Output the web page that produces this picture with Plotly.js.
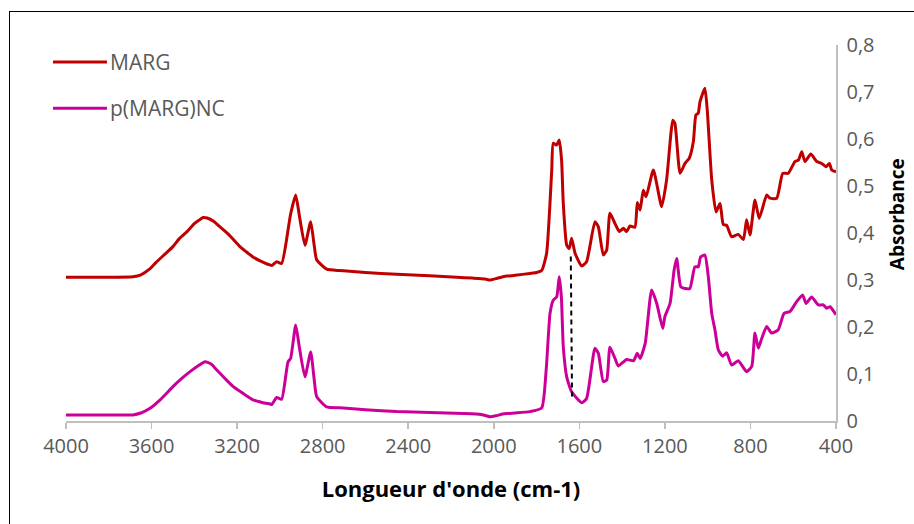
<!DOCTYPE html>
<html>
<head>
<meta charset="utf-8">
<script src="https://cdn.plot.ly/plotly-3.0.1.min.js"></script>
<style>
html,body{margin:0;padding:0;background:#fff;overflow:hidden;}
#chart{width:914px;height:524px;}
#frame{position:absolute;left:9px;top:11px;width:1000px;height:1000px;border:1.6px solid #000;pointer-events:none;}
</style>
</head>
<body>
<div id="chart"></div>
<div id="frame"></div>
<script>
// Series names
const seriesNames = ['MARG', 'p(MARG)NC'];

// MARG spectrum (wavenumber cm-1, absorbance)
const margX = [4000,3800,3687,3650,3607,3580,3540,3500,3470,3434,3400,3370,3359,3340,3310,3280,3240,3187,3160,3126,3090,3060,3046,3038,3015,2992,2962,2950,2926,2910,2883,2856,2840,2828,2781,2719,2600,2454,2300,2173,2100,2040,2018,1990,1957,1900,1831,1800,1776,1753,1729,1722,1706,1694,1683,1675,1659,1647,1636,1620,1589,1566,1527,1511,1488,1472,1457,1433,1413,1394,1379,1363,1340,1329,1316,1301,1288,1254,1215,1192,1163,1153,1129,1106,1086,1067,1055,1044,1036,1013,1002,981,961,942,927,911,888,857,833,818,802,779,759,724,709,677,649,623,592,576,560,545,518,490,467,447,431,420,400];
const margY = [0.306,0.306,0.307,0.311,0.324,0.337,0.354,0.371,0.388,0.403,0.420,0.430,0.433,0.432,0.425,0.413,0.397,0.371,0.361,0.349,0.340,0.334,0.332,0.331,0.339,0.335,0.406,0.440,0.481,0.440,0.374,0.424,0.375,0.343,0.323,0.320,0.316,0.312,0.309,0.306,0.304,0.302,0.300,0.303,0.307,0.310,0.314,0.316,0.320,0.357,0.534,0.591,0.587,0.598,0.555,0.463,0.374,0.367,0.389,0.357,0.330,0.339,0.424,0.413,0.353,0.364,0.442,0.420,0.403,0.410,0.403,0.415,0.412,0.465,0.449,0.491,0.477,0.534,0.456,0.513,0.640,0.633,0.527,0.548,0.559,0.594,0.651,0.655,0.679,0.708,0.662,0.513,0.445,0.463,0.418,0.416,0.392,0.397,0.386,0.428,0.396,0.470,0.431,0.481,0.474,0.474,0.527,0.527,0.552,0.555,0.573,0.552,0.568,0.552,0.548,0.541,0.548,0.534,0.530];

// p(MARG)NC spectrum
const ncX = [4000,3800,3687,3650,3607,3560,3500,3460,3420,3380,3350,3320,3296,3260,3218,3170,3125,3080,3046,3038,3015,2992,2962,2950,2926,2910,2883,2856,2840,2828,2781,2719,2600,2454,2298,2142,2060,2018,1990,1957,1900,1831,1776,1755,1737,1722,1706,1694,1684,1675,1659,1636,1589,1566,1527,1511,1488,1472,1457,1433,1418,1379,1347,1329,1316,1292,1262,1238,1210,1200,1176,1157,1145,1126,1106,1083,1060,1044,1033,1013,997,981,966,950,930,911,888,857,818,794,779,763,747,724,701,670,643,615,584,556,540,514,483,459,444,428,400];
const ncY = [0.013,0.013,0.013,0.017,0.027,0.045,0.073,0.090,0.105,0.118,0.126,0.121,0.109,0.092,0.073,0.058,0.045,0.039,0.036,0.035,0.050,0.046,0.126,0.133,0.204,0.160,0.094,0.147,0.090,0.052,0.030,0.028,0.024,0.020,0.018,0.016,0.014,0.009,0.011,0.015,0.017,0.020,0.028,0.109,0.229,0.257,0.264,0.307,0.264,0.158,0.094,0.062,0.039,0.048,0.155,0.144,0.084,0.087,0.157,0.133,0.117,0.131,0.128,0.144,0.133,0.165,0.279,0.250,0.197,0.222,0.250,0.321,0.346,0.286,0.282,0.282,0.328,0.328,0.349,0.353,0.307,0.229,0.194,0.151,0.138,0.145,0.119,0.128,0.105,0.116,0.187,0.155,0.176,0.201,0.187,0.194,0.229,0.233,0.254,0.268,0.250,0.264,0.247,0.247,0.240,0.243,0.226];

// Dashed marker line between the two spectra
const markX = [1640, 1634];
const markY = [0.350, 0.048];

// Axis ticks
const xTickVals = [4000,3600,3200,2800,2400,2000,1600,1200,800,400];
const xTickText = ['4000','3600','3200','2800','2400','2000','1600','1200','800','400'];
const yTickVals = [0,0.1,0.2,0.3,0.4,0.5,0.6,0.7,0.8];
const yTickText = ['0','0,1','0,2','0,3','0,4','0,5','0,6','0,7','0,8'];

const colors = ['#C00000', '#CC0099'];
const tickFont = {family: 'Open Sans, sans-serif', size: 20, color: '#595959'};
const legendFont = {family: 'Open Sans, sans-serif', size: 21, color: '#595959'};

const traces = [
  {x: margX, y: margY, mode: 'lines', name: seriesNames[0], line: {color: colors[0], width: 3, shape: 'spline', smoothing: 0.5}},
  {x: ncX, y: ncY, mode: 'lines', name: seriesNames[1], line: {color: colors[1], width: 3, shape: 'spline', smoothing: 0.5}},
  {x: markX, y: markY, mode: 'lines', showlegend: false, hoverinfo: 'skip', line: {color: '#000', width: 2, dash: '5px,4px'}}
];

// Legend drawn as swatches + labels (top-left)
const legendY = [0.955, 0.832];
const shapes = [];
const annotations = [];
for (let i = 0; i < 2; i++) {
  shapes.push({type: 'line', xref: 'paper', yref: 'paper', x0: -0.0169, x1: 0.0532, y0: legendY[i], y1: legendY[i], line: {color: colors[i], width: 3}});
  annotations.push({xref: 'paper', yref: 'paper', x: 0.0545, y: legendY[i], xanchor: 'left', yanchor: 'middle', showarrow: false, text: seriesNames[i], font: legendFont});
}
annotations.push({xref: 'paper', yref: 'paper', x: 1, y: 0.55, xshift: 61, xanchor: 'center', yanchor: 'middle', textangle: -90, showarrow: false, text: '<b>Absorbance</b>', font: {family: 'Open Sans, sans-serif', size: 19, color: '#000'}});

const layout = {
  width: 914, height: 524,
  margin: {l: 66, r: 78, t: 45, b: 103},
  paper_bgcolor: 'rgba(0,0,0,0)', plot_bgcolor: 'rgba(0,0,0,0)',
  showlegend: false,
  xaxis: {
    range: [4000, 400], tickvals: xTickVals, ticktext: xTickText,
    showgrid: false, zeroline: false, showline: true, linecolor: '#BFBFBF', linewidth: 1.5,
    ticks: 'outside', ticklen: 6, tickcolor: '#BFBFBF', tickwidth: 1.5,
    tickfont: tickFont,
    title: {text: "<b>Longueur d'onde (cm-1)</b>", font: {family: 'Open Sans, sans-serif', size: 22, color: '#000'}, standoff: 24},
    automargin: false
  },
  yaxis: {
    range: [0, 0.8], side: 'right', tickvals: yTickVals, ticktext: yTickText,
    showgrid: false, zeroline: false, showline: true, linecolor: '#BFBFBF', linewidth: 1.5,
    ticks: '', tickfont: tickFont, ticklabelstandoff: 5, automargin: false
  },
  shapes: shapes,
  annotations: annotations
};

Plotly.newPlot('chart', traces, layout, {displayModeBar: false, staticPlot: true});
</script>
</body>
</html>
